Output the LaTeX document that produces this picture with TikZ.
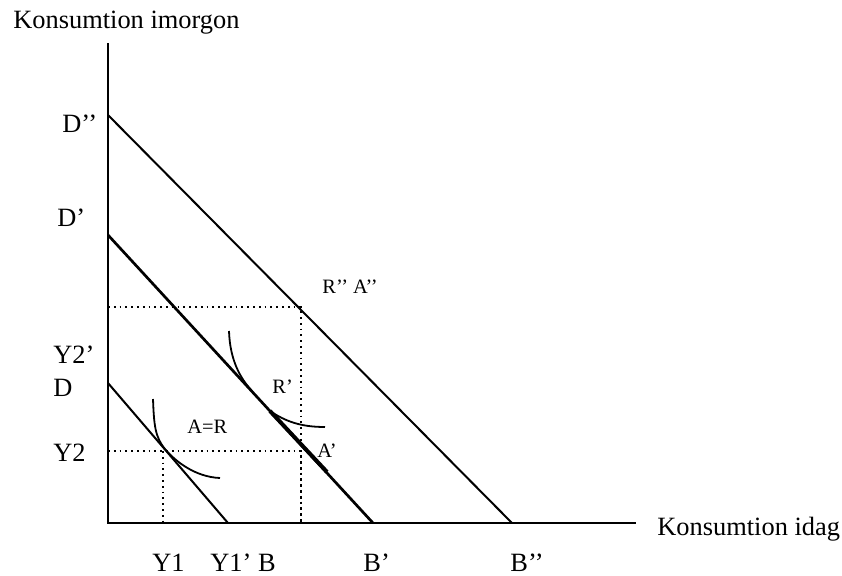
\documentclass[tikz,border=0pt]{standalone}
\usepackage{fontspec}
\setmainfont{Liberation Serif}
\begin{document}
\begin{tikzpicture}[x=0.5pt,y=-0.5pt,
  axis/.style={line width=1.3pt},
  budget/.style={line width=1pt},
  budgetb/.style={line width=1.35pt},
  icurve/.style={line width=0.9pt},
  guide/.style={line width=0.9pt, dotted},
  biglab/.style={anchor=base west, inner sep=0pt, font=\fontsize{13.2}{15}\selectfont},
  smalllab/.style={anchor=base west, inner sep=0pt, font=\fontsize{10.2}{12}\selectfont}]
\useasboundingbox[fill=white] (0,0) rectangle (842,575);
% key points
\coordinate (O) at (108,523);
\coordinate (ytop) at (108,43);
\coordinate (xend) at (636,523);
\coordinate (Dpt) at (108,383);
\coordinate (Bpt) at (228,523);
\coordinate (Dp) at (108,235);
\coordinate (Bp) at (373,523);
\coordinate (Dpp) at (108,115);
\coordinate (Bpp) at (512,523);
\coordinate (Y2L) at (108,451);
\coordinate (AR) at (163,451);
\coordinate (Y1b) at (163,523);
\coordinate (Ap) at (301,451);
\coordinate (Y2pL) at (108,307);
\coordinate (RA) at (301,307);
\coordinate (Xb) at (301,523);
% axes
\draw[axis] (ytop) -- (O) -- (xend);
% budget lines
\draw[budget] (Dpt) -- (Bpt);
\draw[budgetb] (Dp) -- (Bp);
\draw[budget] (Dpp) -- (Bpp);
\draw[line width=2pt] (270,411) -- (327,472);
% dotted guides
\draw[guide] (Y2L) -- (Ap) -- (Xb);
\draw[guide] (AR) -- (Y1b);
\draw[guide] (Y2pL) -- (RA) -- (Xb);
% indifference curves
\draw[icurve] (153,399) .. controls (154,425) and (155,437) .. (165,449)
              .. controls (175,461) and (195,477) .. (220,478);
\draw[icurve] (229,331) .. controls (230,360) and (240,378) .. (252,391);
\draw[icurve] (270,411) .. controls (285,421) and (300,427) .. (325,427);
% labels
\node[biglab] (ylab) at (13,28) {Konsumtion imorgon};
\node[biglab] (xlab) at (657,535) {Konsumtion idag};
\node[biglab] (lDpp) at (62,132) {D’’};
\node[biglab] (lDp) at (57,226) {D’};
\node[biglab] (lY2p) at (53,363) {Y2’};
\node[biglab] (lD) at (53,396) {D};
\node[biglab] (lY2) at (53,461) {Y2};
\node[biglab] (lY1) at (152,571) {Y1};
\node[biglab] (lY1p) at (210,571) {Y1’ B};
\node[biglab] (lBp) at (363,571) {B’};
\node[biglab] (lBpp) at (510,571) {B’’};
\node[smalllab] (lAR) at (187,433) {A=R};
\node[smalllab] (lRp) at (272,393) {R’};
\node[smalllab] (lAp) at (317,457) {A’};
\node[smalllab] (lRA) at (322,293) {R’’ A’’};
\end{tikzpicture}
\end{document}
